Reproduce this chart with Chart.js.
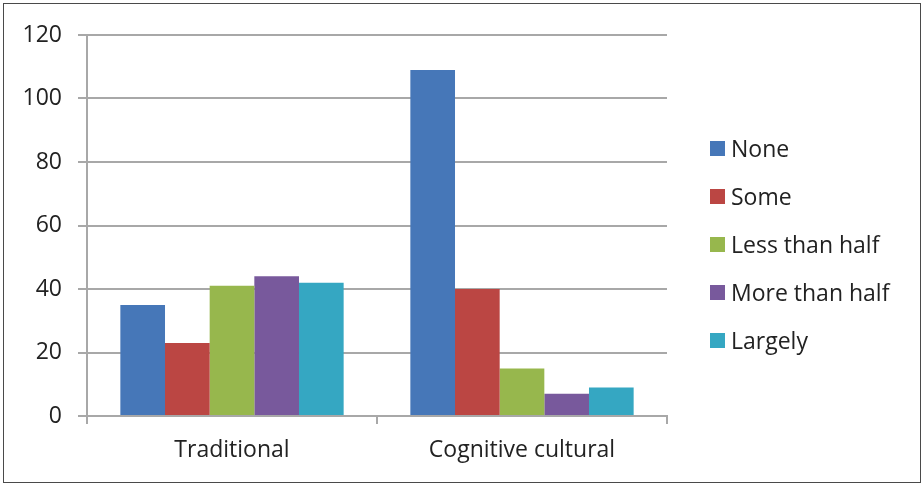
<!DOCTYPE html>
<html>
<head>
<meta charset="utf-8">
<script src="https://cdn.jsdelivr.net/npm/chart.js@4/dist/chart.umd.min.js"></script>
<style>
  html, body { margin: 0; padding: 0; background: #fff; }
  #wrap { width: 924px; height: 486px; position: relative; }
</style>
</head>
<body>
<div id="wrap"><canvas id="chart" width="924" height="486"></canvas></div>
<script>
// Chart data
const categories = ['Traditional', 'Cognitive cultural'];
const seriesNames = ['None', 'Some', 'Less than half', 'More than half', 'Largely'];
const noneValues = [35, 109];
const someValues = [23, 40];
const lessHalfValues = [41, 15];
const moreHalfValues = [44, 7];
const largelyValues = [42, 9];
const yTicks = [0, 20, 40, 60, 80, 100, 120];

const colors = ['#4677b8', '#bb4643', '#97b74d', '#78599c', '#35a7c2'];
const seriesValues = [noneValues, someValues, lessHalfValues, moreHalfValues, largelyValues];

const FONT = '"Open Sans", "Liberation Sans", sans-serif';
const FONT_SIZE = 23;
const gridColor = '#a8a8a8';

// outer frame of the picture
const framePlugin = {
    id: 'frame',
    beforeDraw(chart) {
        const ctx = chart.ctx;
        ctx.save();
        ctx.fillStyle = '#fff';
        ctx.fillRect(0, 0, chart.width, chart.height);
        ctx.strokeStyle = '#4a4a4a';
        ctx.lineWidth = 1;
        ctx.strokeRect(3.5, 3.5, chart.width - 7, chart.height - 7);
        ctx.restore();
    }
};

// legend drawn at the right, from dataset labels and colours
const sideLegend = {
    id: 'sideLegend',
    afterDraw(chart) {
        const ctx = chart.ctx;
        const sets = chart.data.datasets;
        const rowGap = 48;
        const startY = 148;
        ctx.save();
        ctx.font = FONT_SIZE + 'px ' + FONT;
        ctx.textBaseline = 'middle';
        ctx.textAlign = 'left';
        sets.forEach((ds, i) => {
            const y = startY + i * rowGap;
            ctx.fillStyle = ds.backgroundColor;
            ctx.fillRect(710, y - 7, 15, 15);
            ctx.fillStyle = '#222';
            ctx.fillText(ds.label, 731, y + 2);
        });
        ctx.restore();
    }
};

const datasets = seriesNames.map((name, i) => ({
    label: name,
    data: seriesValues[i],
    backgroundColor: colors[i],
    borderWidth: 0,
    categoryPercentage: 0.77,
    barPercentage: 1.0
}));

new Chart(document.getElementById('chart'), {
    type: 'bar',
    data: { labels: categories, datasets: datasets },
    options: {
        responsive: false,
        animation: false,
        layout: { padding: { top: 35, left: 5, right: 257, bottom: 20 } },
        plugins: {
            legend: { display: false },
            tooltip: { enabled: false }
        },
        scales: {
            x: {
                grid: {
                    offset: true,
                    drawOnChartArea: false,
                    drawTicks: true,
                    tickLength: 8,
                    color: gridColor,
                    lineWidth: 2
                },
                border: { display: true, color: gridColor, width: 2 },
                ticks: {
                    color: '#222',
                    font: { family: FONT, size: FONT_SIZE },
                    padding: 13
                },
                afterFit(scale) { scale.height = 50; }
            },
            y: {
                min: 0,
                max: 120,
                afterBuildTicks(scale) {
                    scale.ticks = yTicks.map(v => ({ value: v }));
                },
                grid: {
                    color: gridColor,
                    lineWidth: 2,
                    drawTicks: true,
                    tickLength: 9
                },
                border: { display: true, color: gridColor, width: 2 },
                ticks: {
                    color: '#222',
                    font: { family: FONT, size: FONT_SIZE },
                    padding: 16
                },
                afterFit(scale) { scale.width = 82; }
            }
        }
    },
    plugins: [framePlugin, sideLegend]
});
</script>
</body>
</html>
